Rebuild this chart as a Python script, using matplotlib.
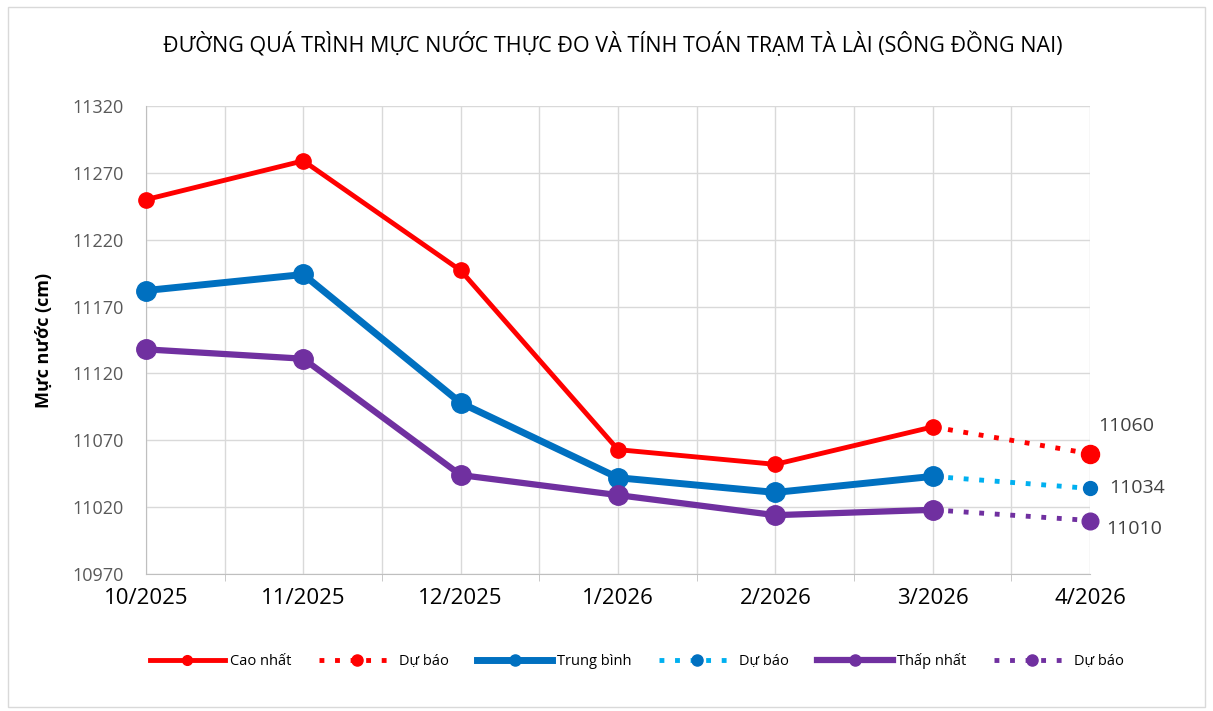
import numpy as np
import matplotlib
matplotlib.use('Agg')
import matplotlib.pyplot as plt
from matplotlib.patches import Rectangle
from matplotlib.lines import Line2D

plt.rcParams['font.family'] = ['Open Sans', 'DejaVu Sans']

# dữ liệu
months = ['10/2025', '11/2025', '12/2025', '1/2026', '2/2026', '3/2026', '4/2026']
cao_nhat = [11250, 11279, 11197, 11063, 11052, 11080]
trung_binh = [11182, 11194, 11098, 11042, 11031, 11043]
thap_nhat = [11138, 11131, 11044, 11029, 11014, 11018]
du_bao_cao = [11080, 11060]
du_bao_tb = [11043, 11034]
du_bao_thap = [11018, 11010]

RED = '#FF0000'
BLUE = '#0070C0'
LBLUE = '#00B0F0'
PURPLE = '#7030A0'
GRID = '#D9D9D9'
DOT = (0, (1, 2.2))

fig = plt.figure(figsize=(12.13, 7.11), dpi=100)
ax = fig.add_axes([146 / 1213, 1 - 574 / 711, (1090 - 146) / 1213, (574 - 106) / 711])

x = np.arange(len(months))
xo = x[:6]
xf = x[5:]

ax.plot(xo, cao_nhat, color=RED, lw=3.5, marker='o', ms=11, zorder=5, clip_on=False)
ax.plot(xf, du_bao_cao, color=RED, lw=3.5, ls=DOT, zorder=4, clip_on=False)
ax.plot(xf[1], du_bao_cao[1], 'o', color=RED, ms=13, zorder=5, clip_on=False)
ax.plot(xo, trung_binh, color=BLUE, lw=5, marker='o', ms=14, zorder=5, clip_on=False)
ax.plot(xf, du_bao_tb, color=LBLUE, lw=3.5, ls=DOT, zorder=4, clip_on=False)
ax.plot(xf[1], du_bao_tb[1], 'o', color=BLUE, ms=10, zorder=5, clip_on=False)
ax.plot(xo, thap_nhat, color=PURPLE, lw=4.5, marker='o', ms=14, zorder=5, clip_on=False)
ax.plot(xf, du_bao_thap, color=PURPLE, lw=3.5, ls=DOT, zorder=4, clip_on=False)
ax.plot(xf[1], du_bao_thap[1], 'o', color=PURPLE, ms=12, zorder=5, clip_on=False)

# nhãn giá trị dự báo
for val, dx, dy in [(du_bao_cao[1], 6, 20), (du_bao_tb[1], 14, 0), (du_bao_thap[1], 12, -6)]:
    ax.annotate(str(val), (xf[1], val), xytext=(dx, dy), textcoords='offset points',
                va='center', ha='left', fontsize=14, color='#404040', annotation_clip=False)

ax.set_xlim(0, 6)
ax.set_ylim(10970, 11320)
ax.set_yticks(np.arange(10970, 11321, 50))
ax.set_xticks(x)
ax.set_xticklabels(months, fontsize=16, color='#000000')
ax.set_xticks(np.arange(0.5, 6, 1), minor=True)
ax.tick_params(axis='y', labelsize=13, labelcolor='#595959', length=0, pad=16)
ax.tick_params(axis='x', which='major', length=0, pad=10)
ax.tick_params(axis='x', which='minor', length=5, color='#BFBFBF')
ax.grid(True, which='major', color=GRID, lw=1)
ax.grid(True, which='minor', axis='x', color=GRID, lw=1)
for s in ['top', 'right']:
    ax.spines[s].set_visible(False)
ax.spines['left'].set_color('#BFBFBF')
ax.spines['bottom'].set_color('#BFBFBF')
ax.set_axisbelow(True)

ax.set_ylabel('Mực nước (cm)', fontsize=13, fontweight='bold', labelpad=14)
fig.text(0.505, 1 - 44 / 711, 'ĐƯỜNG QUÁ TRÌNH MỰC NƯỚC THỰC ĐO VÀ TÍNH TOÁN TRẠM TÀ LÀI (SÔNG ĐỒNG NAI)',
         ha='center', va='center', fontsize=15.5, color='#000000')

handles = [
    Line2D([], [], color=RED, lw=3.5, marker='o', ms=7),
    Line2D([], [], color=RED, lw=3.5, ls=DOT, marker='o', ms=8),
    Line2D([], [], color=BLUE, lw=5, marker='o', ms=8),
    Line2D([], [], color=LBLUE, lw=3.5, ls=DOT, marker='o', ms=8, mfc=BLUE, mec=BLUE),
    Line2D([], [], color=PURPLE, lw=4.5, marker='o', ms=8),
    Line2D([], [], color=PURPLE, lw=3.5, ls=DOT, marker='o', ms=8),
]
labels = ['Cao nhất', 'Dự báo', 'Trung bình', 'Dự báo', 'Thấp nhất', 'Dự báo']
fig.legend(handles=handles, labels=labels, loc='center', ncol=6,
           bbox_to_anchor=(0.525, 1 - 661 / 711), frameon=False, fontsize=10.5,
           handlelength=5.2, handletextpad=0.3, columnspacing=1.9)

fig.patches.append(Rectangle((8 / 1213, 4 / 711), 1197 / 1213, 700 / 711, transform=fig.transFigure,
                             fill=False, edgecolor='#D9D9D9', lw=1))

fig.savefig('out.png', dpi=100)
